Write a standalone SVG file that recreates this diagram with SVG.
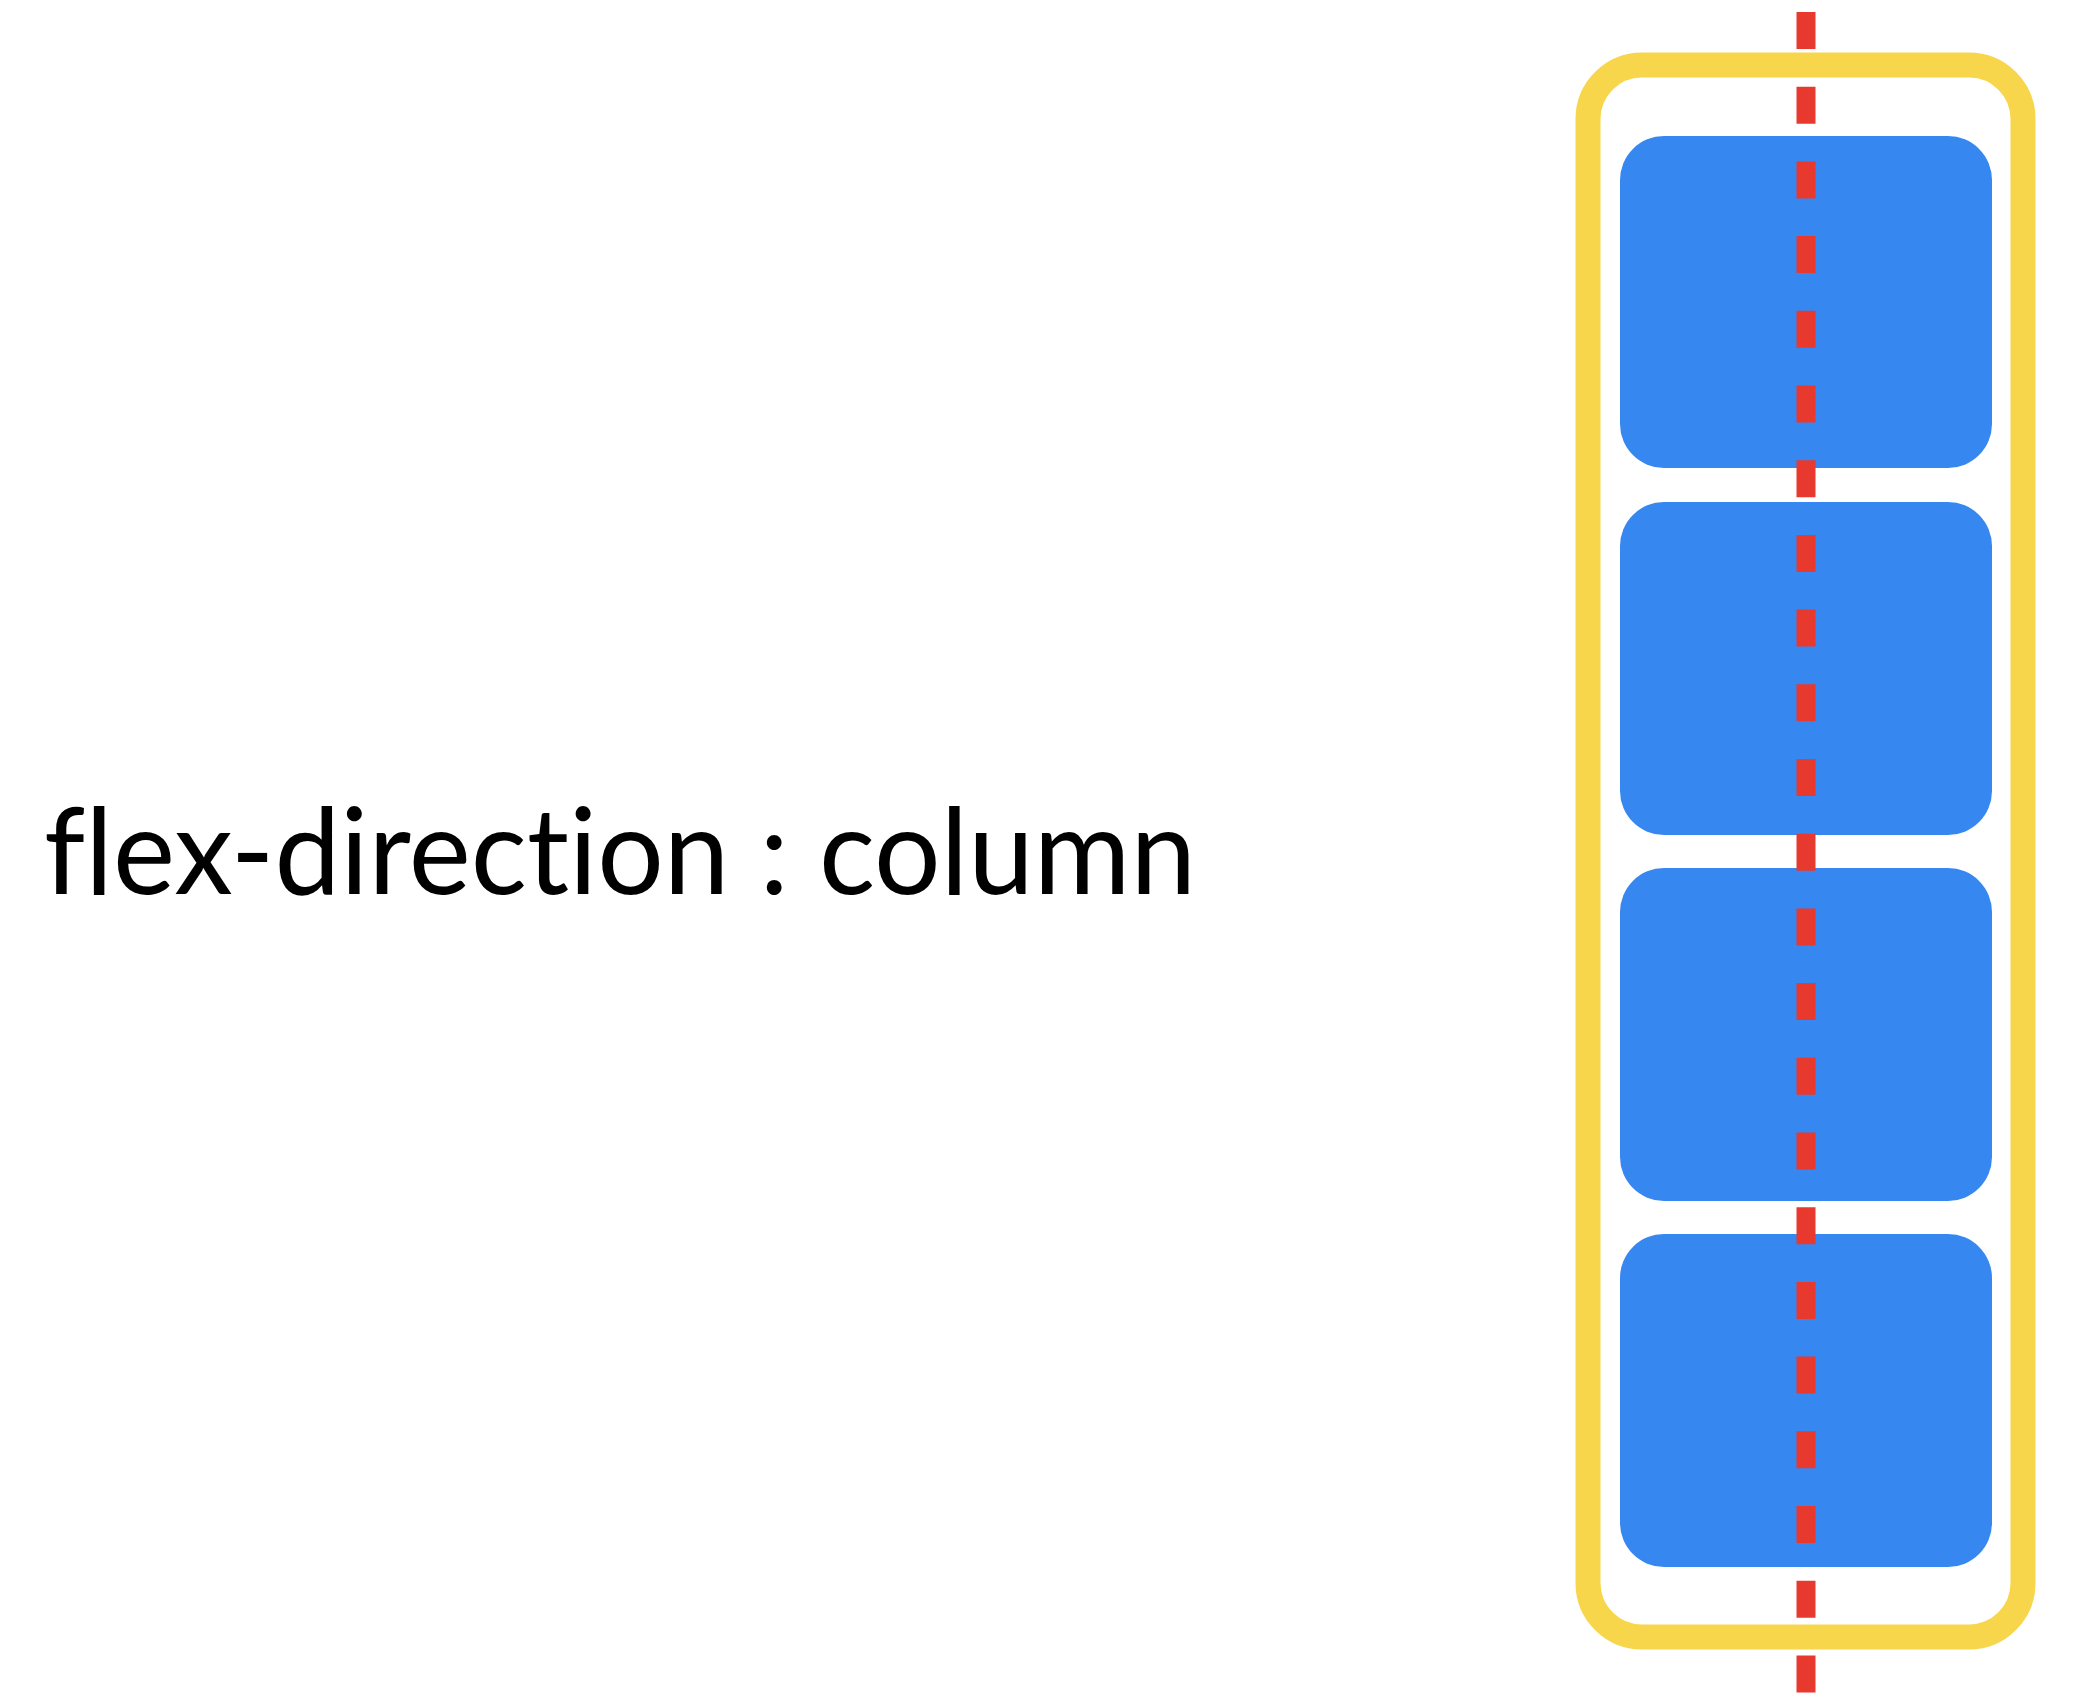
<svg xmlns="http://www.w3.org/2000/svg" width="2074" height="1704" viewBox="0 0 2074 1704">
<style>
.container{fill:none;stroke:#F8D64B;stroke-width:25}
.item{fill:#3787F0}
.axis{stroke:#E8392F;stroke-width:19;stroke-dasharray:37 37.7;fill:none}
.label{font-family:"Lato","Liberation Sans",sans-serif;font-size:120px;fill:#000;font-variant-ligatures:none;font-feature-settings:"liga" 0,"clig" 0}
</style>
<rect width="2074" height="1704" fill="#fff"/>
<g id="label">
<text class="label" x="44" y="894" textLength="1152" lengthAdjust="spacingAndGlyphs">flex-direction : column</text>
</g>
<g id="container">
<rect class="container" x="1588" y="65" width="435" height="1572" rx="54" ry="54"/>
</g>
<g id="item1"><rect class="item" x="1620" y="136" width="372" height="332" rx="44" ry="44"/></g>
<g id="item2"><rect class="item" x="1620" y="502" width="372" height="333" rx="44" ry="44"/></g>
<g id="item3"><rect class="item" x="1620" y="868" width="372" height="333" rx="44" ry="44"/></g>
<g id="item4"><rect class="item" x="1620" y="1234" width="372" height="333" rx="44" ry="44"/></g>
<g id="connectors">
<line class="axis" x1="1806" y1="12" x2="1806" y2="1704"/>
</g>
</svg>
